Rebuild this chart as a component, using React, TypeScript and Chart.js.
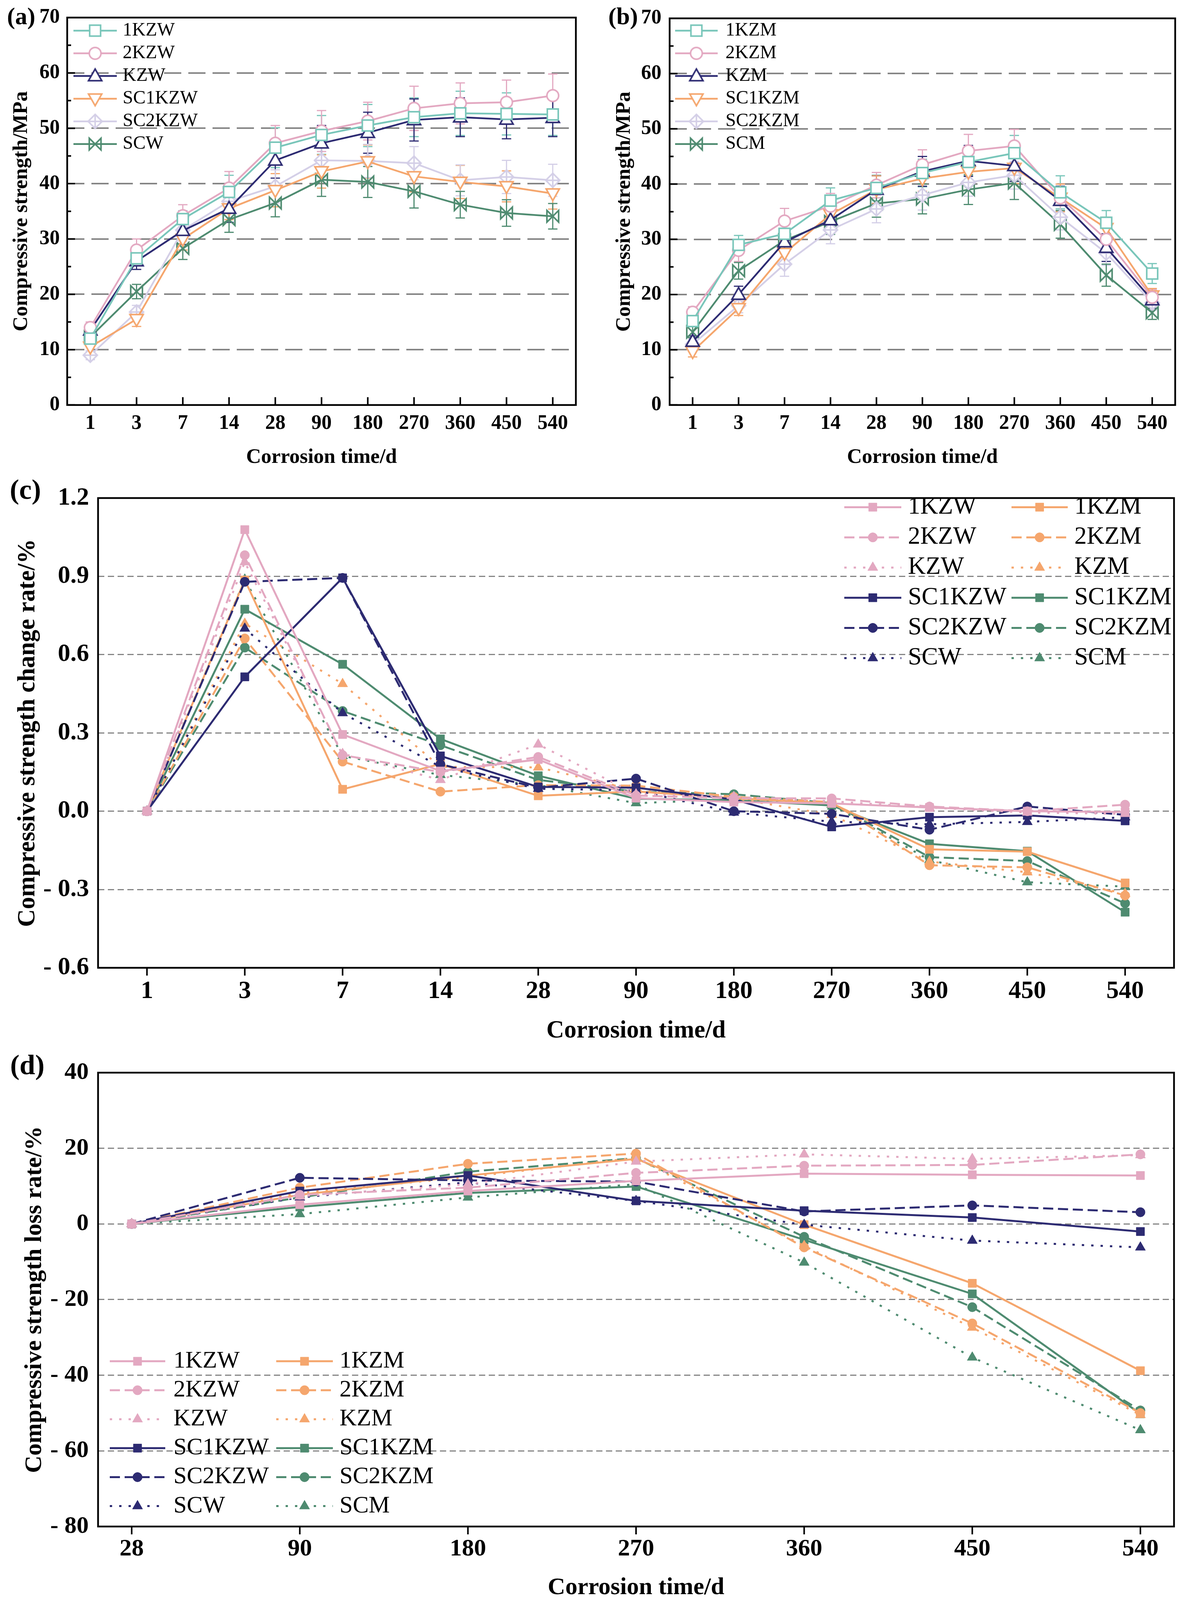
import React, { useEffect, useRef } from 'react';
import { Chart, registerables } from 'chart.js';
import { drawPoint } from 'chart.js/helpers';

Chart.register(...registerables);

const SERIF = '"Liberation Serif", "Times New Roman", Times, serif';

// ---------- categories / tick labels ----------
const timeLabels = ['1', '3', '7', '14', '28', '90', '180', '270', '360', '450', '540'];
const lossLabels = ['28', '90', '180', '270', '360', '450', '540'];
const yTicksAB = [0, 10, 20, 30, 40, 50, 60, 70];
const yTicksC = [-0.6, -0.3, 0, 0.3, 0.6, 0.9, 1.2];
const yTicksD = [-80, -60, -40, -20, 0, 20, 40];

// ---------- (a) compressive strength, W series ----------
const namesA = ['1KZW', '2KZW', 'KZW', 'SC1KZW', 'SC2KZW', 'SCW'];
const a1KZW = [12.0, 26.5, 33.6, 38.5, 46.5, 48.8, 50.5, 52.0, 52.7, 52.6, 52.5];
const a2KZW = [14.0, 28.0, 34.2, 39.2, 47.3, 49.5, 51.3, 53.6, 54.5, 54.7, 55.9];
const aKZW = [13.5, 26.0, 31.5, 35.5, 44.2, 47.3, 49.2, 51.5, 52.0, 51.6, 51.9];
const aSC1KZW = [10.5, 15.5, 30.0, 35.5, 38.8, 42.2, 44.0, 41.3, 40.3, 39.5, 38.2];
const aSC2KZW = [9.0, 16.8, 31.6, 36.8, 39.5, 44.2, 44.1, 43.7, 40.6, 41.2, 40.6];
const aSCW = [12.3, 20.5, 28.3, 33.5, 36.5, 40.7, 40.3, 38.6, 36.2, 34.7, 34.1];
const eA1KZW = [1.0, 1.2, 1.5, 3.0, 3.6, 3.5, 3.8, 3.5, 4.0, 3.8, 3.8];
const eA2KZW = [1.0, 2.0, 2.0, 3.0, 3.2, 3.7, 3.4, 4.0, 3.7, 4.0, 3.9];
const eAKZW = [1.0, 1.5, 2.5, 2.5, 3.2, 3.2, 3.7, 3.8, 3.5, 3.5, 3.4];
const eASC1KZW = [1.0, 1.3, 2.0, 2.0, 3.0, 3.0, 3.0, 2.8, 3.0, 2.8, 2.8];
const eASC2KZW = [0.8, 1.2, 2.0, 2.0, 3.0, 3.0, 3.0, 3.0, 2.8, 3.0, 2.9];
const eASCW = [1.2, 1.3, 2.0, 2.3, 2.5, 3.0, 2.8, 3.0, 2.4, 2.4, 2.3];

// ---------- (b) compressive strength, M series ----------
const namesB = ['1KZM', '2KZM', 'KZM', 'SC1KZM', 'SC2KZM', 'SCM'];
const b1KZM = [15.2, 29.0, 31.0, 37.0, 39.3, 42.0, 44.0, 45.6, 38.5, 33.0, 23.8];
const b2KZM = [16.8, 28.0, 33.3, 36.0, 39.8, 43.5, 46.0, 46.9, 37.5, 30.0, 19.5];
const bKZM = [11.5, 20.0, 29.5, 33.5, 39.0, 42.3, 44.2, 43.3, 37.0, 28.5, 19.0];
const bSC1KZM = [9.7, 17.5, 27.5, 34.5, 39.0, 41.0, 42.2, 42.9, 37.5, 32.0, 19.8];
const bSC2KZM = [11.0, 18.0, 25.5, 31.7, 35.5, 38.0, 40.3, 41.6, 34.0, 27.5, 18.5];
const bSCM = [13.2, 24.3, 29.8, 33.2, 36.5, 37.3, 39.0, 40.2, 32.7, 23.5, 16.7];
const eB1KZM = [1.0, 1.7, 2.0, 2.3, 2.3, 2.5, 2.5, 3.2, 3.0, 2.2, 1.8];
const eB2KZM = [1.0, 2.0, 2.3, 2.3, 2.3, 2.7, 3.0, 3.0, 2.5, 2.5, 1.4];
const eBKZM = [1.0, 1.5, 2.0, 2.3, 2.5, 2.7, 2.8, 2.8, 2.6, 2.5, 1.5];
const eBSC1KZM = [1.0, 1.3, 2.2, 2.2, 2.5, 2.3, 2.5, 2.8, 2.5, 2.0, 1.3];
const eBSC2KZM = [1.0, 1.3, 2.2, 2.5, 2.5, 2.7, 2.5, 2.5, 2.3, 2.2, 1.3];
const eBSCM = [1.0, 1.5, 2.0, 2.3, 2.5, 2.7, 2.7, 3.0, 2.5, 2.0, 1.2];

// ---------- (c) compressive strength change rate ----------
const c1KZW = [0, 1.079, 0.294, 0.154, 0.198, 0.05, 0.035, 0.03, 0.014, 0.0, -0.003];
const c2KZW = [0, 0.981, 0.215, 0.15, 0.208, 0.06, 0.05, 0.049, 0.018, 0.0, 0.025];
const cKZW = [0, 0.954, 0.22, 0.12, 0.256, 0.065, 0.055, 0.038, 0.014, -0.005, -0.01];
const cSC1KZW = [0, 0.515, 0.894, 0.212, 0.093, 0.09, 0.045, -0.06, -0.023, -0.016, -0.037];
const cSC2KZW = [0, 0.879, 0.894, 0.18, 0.09, 0.125, 0.0, -0.01, -0.071, 0.018, -0.014];
const cSCW = [0, 0.70, 0.376, 0.17, 0.086, 0.08, -0.005, -0.04, -0.05, -0.041, -0.023];
const c1KZM = [0, 0.886, 0.084, 0.181, 0.059, 0.076, 0.05, 0.03, -0.146, -0.155, -0.275];
const c2KZM = [0, 0.662, 0.19, 0.075, 0.1, 0.098, 0.055, 0.035, -0.207, -0.215, -0.323];
const cKZM = [0, 0.719, 0.488, 0.17, 0.168, 0.08, 0.05, -0.014, -0.193, -0.234, -0.316];
const cSC1KZM = [0, 0.774, 0.563, 0.277, 0.136, 0.048, 0.042, 0.022, -0.125, -0.153, -0.387];
const cSC2KZM = [0, 0.627, 0.384, 0.253, 0.12, 0.075, 0.065, 0.031, -0.176, -0.191, -0.353];
const cSCM = [0, 0.888, 0.212, 0.139, 0.1, 0.031, 0.045, 0.025, -0.187, -0.272, -0.289];

// ---------- (d) compressive strength loss rate ----------
const d1KZW = [0, 5.1, 8.7, 11.4, 13.3, 13.0, 12.8];
const d2KZW = [0, 7.7, 9.6, 13.5, 15.4, 15.6, 18.4];
const dKZW = [0, 7.3, 10.5, 16.5, 18.4, 17.2, 18.2];
const dSC1KZW = [0, 8.7, 12.8, 6.1, 3.5, 1.7, -2.0];
const dSC2KZW = [0, 12.2, 11.5, 11.2, 3.3, 4.9, 3.1];
const dSCW = [0, 7.0, 11.0, 6.1, -0.2, -4.4, -6.2];
const d1KZM = [0, 7.7, 12.8, 17.2, -0.2, -15.7, -38.8];
const d2KZM = [0, 9.6, 15.9, 18.6, -6.2, -26.3, -50.0];
const dKZM = [0, 8.2, 12.4, 17.5, -5.8, -27.4, -50.5];
const dSC1KZM = [0, 4.5, 8.2, 9.9, -4.2, -18.5, -50.2];
const dSC2KZM = [0, 7.0, 13.8, 17.4, -3.4, -22.0, -49.3];
const dSCM = [0, 2.6, 7.0, 10.5, -10.2, -35.3, -54.5];

const namesCD = ['1KZW', '2KZW', 'KZW', 'SC1KZW', 'SC2KZW', 'SCW', '1KZM', '2KZM', 'KZM', 'SC1KZM', 'SC2KZM', 'SCM'];

// ---------- colours ----------
const TEAL = '#79C6BA';
const PINK = '#E3A8C1';
const NAVY = '#2D2B72';
const ORANGE = '#F5A66D';
const LAVENDER = '#D4CFE7';
const GREEN = '#4E8B70';

// reference page height; the page is fitted vertically into the real viewport
const REF_H = 4231;
function getSY() {
  if (typeof window === 'undefined' || !window.innerHeight) return 1;
  return Math.min(1, window.innerHeight / REF_H);
}

function makeMarker(kind: string, color: string): HTMLCanvasElement {
  const S = 46;
  const c = document.createElement('canvas');
  c.width = S;
  c.height = S;
  const g = c.getContext('2d')!;
  g.translate(S / 2, S / 2);
  g.lineWidth = 4;
  g.strokeStyle = color;
  g.fillStyle = '#ffffff';
  g.lineJoin = 'miter';
  g.beginPath();
  if (kind === 'square') {
    g.rect(-14, -14, 28, 28);
    g.fill();
    g.stroke();
  } else if (kind === 'circle') {
    g.arc(0, 0, 15, 0, Math.PI * 2);
    g.fill();
    g.stroke();
  } else if (kind === 'triangle') {
    g.moveTo(0, -18);
    g.lineTo(17, 12);
    g.lineTo(-17, 12);
    g.closePath();
    g.fill();
    g.stroke();
  } else if (kind === 'triangleDown') {
    g.moveTo(0, 18);
    g.lineTo(17, -12);
    g.lineTo(-17, -12);
    g.closePath();
    g.fill();
    g.stroke();
  } else if (kind === 'diamondPlus') {
    g.moveTo(0, -18);
    g.lineTo(18, 0);
    g.lineTo(0, 18);
    g.lineTo(-18, 0);
    g.closePath();
    g.fill();
    g.stroke();
    g.beginPath();
    g.moveTo(0, -18);
    g.lineTo(0, 18);
    g.moveTo(-18, 0);
    g.lineTo(18, 0);
    g.stroke();
  } else if (kind === 'bowtie') {
    g.moveTo(-15, -15);
    g.lineTo(15, 15);
    g.lineTo(15, -15);
    g.lineTo(-15, 15);
    g.closePath();
    g.stroke();
  }
  return c;
}

type LegendCol = { x0: number; x1: number; tx: number };
// vertical geometry is given in reference-page pixels (absolute)
type PanelCfg = {
  left: number;
  w: number;
  top: number;
  h: number;
  plotTop: number;
  plotBottom: number;
  xTickCenter: number;
  xTitleCenter: number;
  labels: string[];
  xMin: number;
  xMax: number;
  yMin: number;
  yMax: number;
  yTicks: number[];
  yFmt: (v: number) => string;
  datasets: any[];
  errors?: number[][];
  yAxisWidth: number;
  padRight: number;
  tickFont: number;
  tickPadY: number;
  titleFont: number;
  xTitle: string;
  yTitle: string;
  yTitlePad: number;
  gridWidth: number;
  gridDash: number[];
  tickDir: 'in' | 'out';
  minor: boolean;
  legend: { cols: LegendCol[]; y0: number; dy: number; perCol: number; font: number; lineWidth: number };
  label: { text: string; x: number; y: number; font: number };
};

function buildChart(canvas: HTMLCanvasElement, cfg: PanelCfg, SY: number): Chart {
  const hPx = Math.round(cfg.h * SY);
  const padTop = (cfg.plotTop - cfg.top) * SY;
  const plotBottomPx = (cfg.plotBottom - cfg.top) * SY;
  const xAxisHeight = hPx - plotBottomPx;
  const tickPadX = Math.max(0, (cfg.xTickCenter - cfg.plotBottom) * SY - cfg.tickFont / 2);
  const xTitlePad = Math.max(0, hPx - (cfg.xTitleCenter - cfg.top) * SY - cfg.titleFont / 2);
  const lgY0 = (cfg.legend.y0 - cfg.top) * SY;
  const lgDy = cfg.legend.dy * SY;
  const labelY = (cfg.label.y - cfg.top) * SY;

  const decor = {
    id: 'decor',
    beforeDatasetsDraw(chart: any) {
      if (!cfg.errors) return;
      const { ctx } = chart;
      const xs = chart.scales.x;
      const ys = chart.scales.y;
      ctx.save();
      ctx.setLineDash([]);
      ctx.lineWidth = 3;
      cfg.datasets.forEach((ds: any, di: number) => {
        const errs = cfg.errors![di];
        ctx.strokeStyle = ds.borderColor;
        ds.data.forEach((p: any, j: number) => {
          const e = errs[j];
          const px = xs.getPixelForValue(p.x);
          const pt = ys.getPixelForValue(p.y + e);
          const pb = ys.getPixelForValue(p.y - e);
          ctx.beginPath();
          ctx.moveTo(px, pt);
          ctx.lineTo(px, pb);
          ctx.moveTo(px - 12, pt);
          ctx.lineTo(px + 12, pt);
          ctx.moveTo(px - 12, pb);
          ctx.lineTo(px + 12, pb);
          ctx.stroke();
        });
      });
      ctx.restore();
    },
    afterDraw(chart: any) {
      const { ctx, chartArea } = chart;
      const { left, right, top, bottom } = chartArea;
      const xs = chart.scales.x;
      const ys = chart.scales.y;
      ctx.save();
      ctx.setLineDash([]);
      ctx.strokeStyle = '#000';
      ctx.lineWidth = 4;
      ctx.lineCap = 'butt';
      // x ticks
      ctx.beginPath();
      cfg.labels.forEach((_, i) => {
        const px = xs.getPixelForValue(i);
        ctx.moveTo(px, bottom);
        ctx.lineTo(px, cfg.tickDir === 'in' ? bottom - 20 : bottom + 20);
      });
      ctx.stroke();
      // y ticks (inward, with minor)
      if (cfg.tickDir === 'in') {
        ctx.beginPath();
        cfg.yTicks.forEach((v, i) => {
          const py = ys.getPixelForValue(v);
          ctx.moveTo(left, py);
          ctx.lineTo(left + 20, py);
          if (cfg.minor && i < cfg.yTicks.length - 1) {
            const pm = ys.getPixelForValue((v + cfg.yTicks[i + 1]) / 2);
            ctx.moveTo(left, pm);
            ctx.lineTo(left + 10, pm);
          }
        });
        ctx.stroke();
      }
      // frame
      ctx.lineWidth = 4.5;
      ctx.strokeRect(left, top, right - left, bottom - top);

      // legend
      const lg = cfg.legend;
      ctx.font = `${lg.font}px ${SERIF}`;
      ctx.textBaseline = 'middle';
      ctx.textAlign = 'left';
      cfg.datasets.forEach((ds: any, i: number) => {
        const col = lg.cols[Math.floor(i / lg.perCol)];
        const y = lgY0 + (i % lg.perCol) * lgDy;
        ctx.save();
        ctx.strokeStyle = ds.borderColor;
        ctx.lineWidth = lg.lineWidth;
        ctx.setLineDash(ds.borderDash || []);
        ctx.beginPath();
        ctx.moveTo(col.x0, y);
        ctx.lineTo(col.x1, y);
        ctx.stroke();
        ctx.setLineDash([]);
        ctx.fillStyle = ds.pointBackgroundColor;
        ctx.strokeStyle = ds.pointBorderColor;
        ctx.lineWidth = ds.pointBorderWidth;
        drawPoint(
          ctx,
          { pointStyle: ds.pointStyle, radius: ds.pointRadius, rotation: 0, borderWidth: ds.pointBorderWidth } as any,
          (col.x0 + col.x1) / 2,
          y
        );
        ctx.restore();
        ctx.fillStyle = '#000';
        ctx.fillText(ds.label, col.tx, y);
      });

      // panel label
      ctx.font = `bold ${cfg.label.font}px ${SERIF}`;
      ctx.fillStyle = '#000';
      ctx.textAlign = 'left';
      ctx.textBaseline = 'middle';
      ctx.fillText(cfg.label.text, cfg.label.x, labelY);
      ctx.restore();
    },
  };

  return new Chart(canvas, {
    type: 'line',
    data: { datasets: cfg.datasets },
    plugins: [decor as any],
    options: {
      animation: false,
      responsive: false,
      devicePixelRatio: 1,
      events: [],
      layout: { padding: { top: padTop, right: cfg.padRight, left: 0, bottom: 0 } },
      plugins: { legend: { display: false }, tooltip: { enabled: false } },
      scales: {
        x: {
          type: 'linear',
          min: cfg.xMin,
          max: cfg.xMax,
          afterBuildTicks: (s: any) => {
            s.ticks = cfg.labels.map((_, i) => ({ value: i }));
          },
          afterFit: (s: any) => {
            s.height = xAxisHeight;
          },
          grid: { display: false, drawTicks: false },
          border: { display: false },
          ticks: {
            autoSkip: false,
            maxRotation: 0,
            padding: tickPadX,
            color: '#000',
            font: { family: SERIF, size: cfg.tickFont, weight: 'bold', lineHeight: 1 },
            callback: (v: any) => cfg.labels[v] ?? '',
          },
          title: {
            display: true,
            text: cfg.xTitle,
            color: '#000',
            font: { family: SERIF, size: cfg.titleFont, weight: 'bold', lineHeight: 1 },
            padding: { top: 0, bottom: xTitlePad },
          },
        },
        y: {
          type: 'linear',
          min: cfg.yMin,
          max: cfg.yMax,
          afterBuildTicks: (s: any) => {
            s.ticks = cfg.yTicks.map((v) => ({ value: v }));
          },
          afterFit: (s: any) => {
            s.width = cfg.yAxisWidth;
          },
          grid: {
            drawTicks: false,
            lineWidth: cfg.gridWidth,
            color: (c: any) => {
              const v = c.tick ? c.tick.value : 0;
              if (Math.abs(v - cfg.yMin) < 1e-9 || Math.abs(v - cfg.yMax) < 1e-9) return 'rgba(0,0,0,0)';
              return '#858585';
            },
          },
          border: { display: false, dash: cfg.gridDash },
          ticks: {
            padding: cfg.tickPadY,
            color: '#000',
            font: { family: SERIF, size: cfg.tickFont, weight: 'bold', lineHeight: 1 },
            callback: (v: any) => cfg.yFmt(Number(v)),
          },
          title: {
            display: true,
            text: cfg.yTitle,
            color: '#000',
            font: { family: SERIF, size: cfg.titleFont, weight: 'bold', lineHeight: 1 },
            padding: { top: cfg.yTitlePad, bottom: 0 },
          },
        },
      },
    } as any,
  });
}

function toXY(arr: number[]) {
  return arr.map((v, i) => ({ x: i, y: v }));
}

function abDataset(label: string, values: number[], color: string, kind: string) {
  return {
    label,
    data: toXY(values),
    borderColor: color,
    backgroundColor: color,
    borderWidth: 4.5,
    pointStyle: makeMarker(kind, color),
    pointRadius: 16,
    pointBackgroundColor: '#ffffff',
    pointBorderColor: color,
    pointBorderWidth: 4,
    tension: 0,
    clip: false,
  };
}

function cdDataset(label: string, values: number[], color: string, variant: number) {
  const dash = variant === 0 ? [] : variant === 1 ? [26, 12] : [6, 18];
  const style = variant === 0 ? 'rect' : variant === 1 ? 'circle' : 'triangle';
  const radius = variant === 0 ? 15 : variant === 1 ? 12 : 15;
  return {
    label,
    data: toXY(values),
    borderColor: color,
    backgroundColor: color,
    borderWidth: 5,
    borderDash: dash,
    pointStyle: style,
    pointRadius: radius,
    pointBackgroundColor: color,
    pointBorderColor: color,
    pointBorderWidth: 1,
    tension: 0,
    clip: false,
  };
}

const markerKinds = ['square', 'circle', 'triangle', 'triangleDown', 'diamondPlus', 'bowtie'];
const abColors = [TEAL, PINK, NAVY, ORANGE, LAVENDER, GREEN];

const fmtInt = (v: number) => {
  const r = Math.round(v);
  return r < 0 ? '- ' + Math.abs(r) : String(r);
};
const fmtOne = (v: number) => {
  const r = Math.round(v * 10) / 10;
  if (Math.abs(r) < 1e-9) return '0.0';
  return r < 0 ? '- ' + Math.abs(r).toFixed(1) : r.toFixed(1);
};

function cfgA(): PanelCfg {
  const vals = [a1KZW, a2KZW, aKZW, aSC1KZW, aSC2KZW, aSCW];
  return {
    left: 0, w: 1514, top: 0, h: 1260, plotTop: 45, plotBottom: 1071, xTickCenter: 1120, xTitleCenter: 1210,
    labels: timeLabels, xMin: -0.5, xMax: 10.5,
    yMin: 0, yMax: 70, yTicks: yTicksAB, yFmt: fmtInt,
    datasets: vals.map((v, i) => abDataset(namesA[i], v, abColors[i], markerKinds[i])),
    errors: [eA1KZW, eA2KZW, eAKZW, eASC1KZW, eASC2KZW, eASCW],
    yAxisWidth: 172, padRight: 40,
    tickFont: 52, tickPadY: 19,
    titleFont: 53, xTitle: 'Corrosion time/d', yTitle: 'Compressive strength/MPa', yTitlePad: 28.5,
    gridWidth: 4, gridDash: [44, 18], tickDir: 'in', minor: true,
    legend: { cols: [{ x0: 188, x1: 299, tx: 314 }], y0: 81, dy: 60, perCol: 6, font: 48, lineWidth: 4.5 },
    label: { text: '(a)', x: 18, y: 48, font: 62 },
  };
}

function cfgB(): PanelCfg {
  const vals = [b1KZM, b2KZM, bKZM, bSC1KZM, bSC2KZM, bSCM];
  return {
    left: 1514, w: 1514, top: 0, h: 1260, plotTop: 45, plotBottom: 1071, xTickCenter: 1120, xTitleCenter: 1210,
    labels: timeLabels, xMin: -0.5, xMax: 10.5,
    yMin: 0, yMax: 70, yTicks: yTicksAB, yFmt: fmtInt,
    datasets: vals.map((v, i) => abDataset(namesB[i], v, abColors[i], markerKinds[i])),
    errors: [eB1KZM, eB2KZM, eBKZM, eBSC1KZM, eBSC2KZM, eBSCM],
    yAxisWidth: 200, padRight: 14,
    tickFont: 52, tickPadY: 21,
    titleFont: 53, xTitle: 'Corrosion time/d', yTitle: 'Compressive strength/MPa', yTitlePad: 57.5,
    gridWidth: 4, gridDash: [44, 18], tickDir: 'in', minor: true,
    legend: { cols: [{ x0: 214, x1: 323, tx: 343 }], y0: 81, dy: 60, perCol: 6, font: 48, lineWidth: 4.5 },
    label: { text: '(b)', x: 43, y: 48, font: 62 },
  };
}

function cfgC(): PanelCfg {
  const vals = [c1KZW, c2KZW, cKZW, cSC1KZW, cSC2KZW, cSCW, c1KZM, c2KZM, cKZM, cSC1KZM, cSC2KZM, cSCM];
  const colors = [PINK, PINK, PINK, NAVY, NAVY, NAVY, ORANGE, ORANGE, ORANGE, GREEN, GREEN, GREEN];
  return {
    left: 0, w: 3028, top: 1260, h: 1520, plotTop: 1294, plotBottom: 2559, xTickCenter: 2622, xTitleCenter: 2727,
    labels: timeLabels, xMin: -0.5, xMax: 10.5,
    yMin: -0.6, yMax: 1.2, yTicks: yTicksC, yFmt: fmtOne,
    datasets: vals.map((v, i) => cdDataset(namesCD[i], v, colors[i], i % 3)),
    yAxisWidth: 251, padRight: 23,
    tickFont: 64, tickPadY: 23,
    titleFont: 63, xTitle: 'Corrosion time/d', yTitle: 'Compressive strength change rate/%', yTitlePad: 40,
    gridWidth: 3, gridDash: [16, 9], tickDir: 'out', minor: false,
    legend: {
      cols: [{ x0: 2161, x1: 2307, tx: 2324 }, { x0: 2589, x1: 2733, tx: 2750 }],
      y0: 1341, dy: 79.8, perCol: 6, font: 63, lineWidth: 5,
    },
    label: { text: '(c)', x: 25, y: 1300, font: 72 },
  };
}

function cfgD(): PanelCfg {
  const vals = [d1KZW, d2KZW, dKZW, dSC1KZW, dSC2KZW, dSCW, d1KZM, d2KZM, dKZM, dSC1KZM, dSC2KZM, dSCM];
  const colors = [PINK, PINK, PINK, NAVY, NAVY, NAVY, ORANGE, ORANGE, ORANGE, GREEN, GREEN, GREEN];
  return {
    left: 0, w: 3028, top: 2780, h: 1451, plotTop: 2819, plotBottom: 4037, xTickCenter: 4097, xTitleCenter: 4200,
    labels: lossLabels, xMin: -0.2, xMax: 6.2,
    yMin: -80, yMax: 40, yTicks: yTicksD, yFmt: fmtInt,
    datasets: vals.map((v, i) => cdDataset(namesCD[i], v, colors[i], i % 3)),
    yAxisWidth: 251, padRight: 23,
    tickFont: 62, tickPadY: 24,
    titleFont: 62, xTitle: 'Corrosion time/d', yTitle: 'Compressive strength loss rate/%', yTitlePad: 58,
    gridWidth: 3, gridDash: [16, 9], tickDir: 'out', minor: false,
    legend: {
      cols: [{ x0: 281, x1: 423, tx: 444 }, { x0: 707, x1: 852, tx: 869 }],
      y0: 3600, dy: 76.6, perCol: 6, font: 61, lineWidth: 5,
    },
    label: { text: '(d)', x: 26, y: 2822, font: 72 },
  };
}

function Panel({ make, SY }: { make: () => PanelCfg; SY: number }) {
  const ref = useRef<HTMLCanvasElement>(null);
  const cfg = make();
  const hPx = Math.round(cfg.h * SY);
  const topPx = Math.round(cfg.top * SY);
  useEffect(() => {
    const chart = buildChart(ref.current!, make(), SY);
    return () => chart.destroy();
  }, [SY]);
  return (
    <canvas
      ref={ref}
      width={cfg.w}
      height={hPx}
      style={{ position: 'absolute', left: cfg.left, top: topPx, width: cfg.w, height: hPx }}
    />
  );
}

export default function App() {
  const SY = getSY();
  const H = Math.round(REF_H * SY);
  return (
    <div style={{ position: 'absolute', left: 0, top: 0, width: 3028, height: H, background: '#ffffff', overflow: 'hidden' }}>
      <Panel make={cfgA} SY={SY} />
      <Panel make={cfgB} SY={SY} />
      <Panel make={cfgC} SY={SY} />
      <Panel make={cfgD} SY={SY} />
    </div>
  );
}
